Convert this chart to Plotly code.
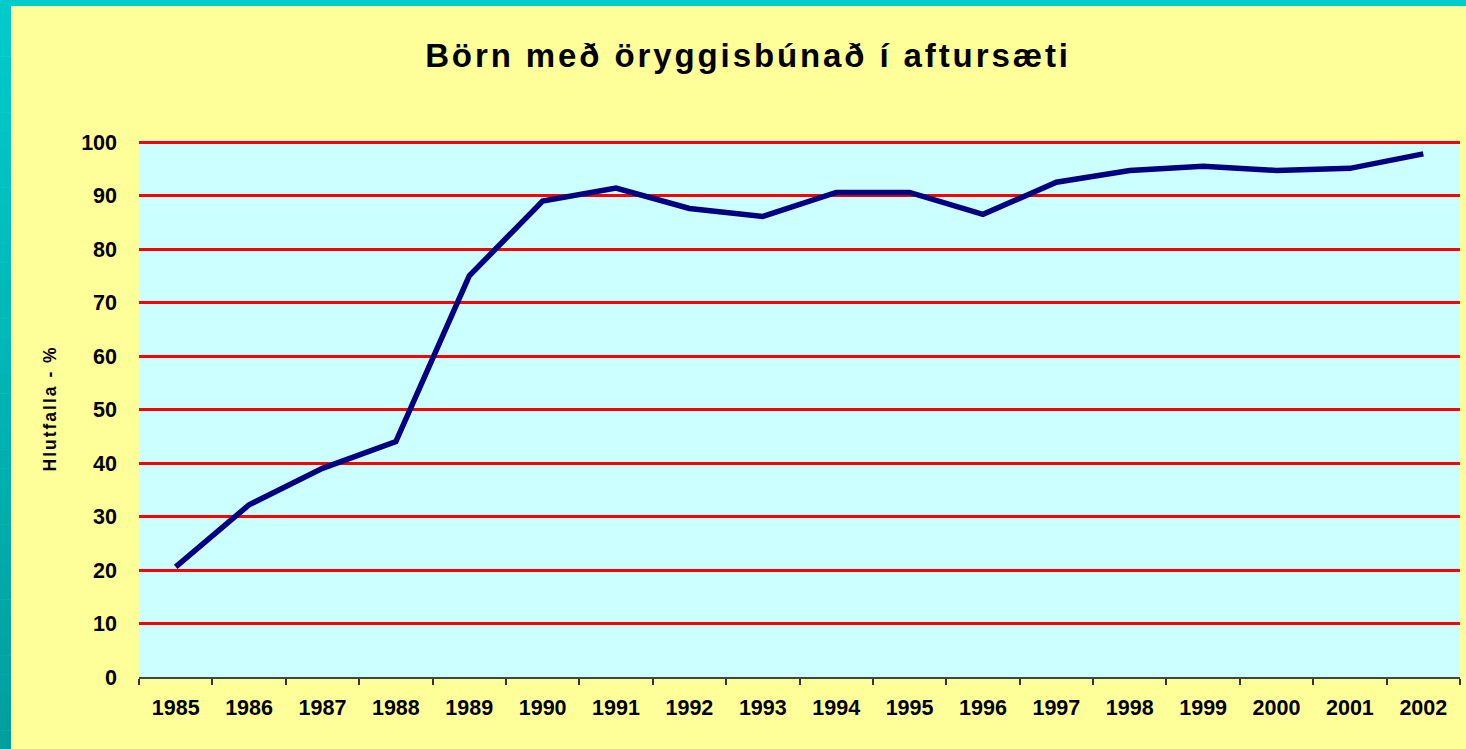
import plotly.graph_objects as go

# ---- data ----
years = ["1985", "1986", "1987", "1988", "1989", "1990", "1991", "1992", "1993",
         "1994", "1995", "1996", "1997", "1998", "1999", "2000", "2001", "2002"]
share = [20.6, 32.2, 39.0, 44.0, 75.0, 89.0, 91.4, 87.6, 86.1,
         90.6, 90.6, 86.5, 92.5, 94.7, 95.5, 94.7, 95.1, 97.8]
y_ticks = [0, 10, 20, 30, 40, 50, 60, 70, 80, 90, 100]

title_text = "Börn með öryggisbúnað í aftursæti"
y_title = "Hlutfalla - %"

W, H = 1466, 749
L, R, T, B = 139, 6, 140, 72
PW, PH = W - L - R, H - T - B

def px_x(p):
    return (p - L) / PW

def px_y(p):
    return (H - B - p) / PH

FONT = "Liberation Sans, Arial, sans-serif"

fig = go.Figure()
fig.add_trace(go.Scatter(
    x=years, y=share, mode="lines",
    line=dict(color="#000080", width=5.5),
    hoverinfo="x+y", showlegend=False,
))

shapes = []
# teal border: top strip
shapes.append(dict(type="rect", xref="paper", yref="paper",
                   x0=px_x(0), x1=px_x(W), y0=px_y(6), y1=px_y(0),
                   fillcolor="#00CCCC", line=dict(width=0), layer="above"))
# teal border: left strip with vertical gradient
n = 40
c_top = (0x00, 0xCC, 0xCC)
c_bot = (0x00, 0x9E, 0x9E)
for i in range(n):
    t = (i + 0.5) / n
    col = tuple(round(c_top[k] + (c_bot[k] - c_top[k]) * t) for k in range(3))
    y0p = H * i / n
    y1p = H * (i + 1) / n + 0.5
    shapes.append(dict(type="rect", xref="paper", yref="paper",
                       x0=px_x(0), x1=px_x(11), y0=px_y(y1p), y1=px_y(y0p),
                       fillcolor="rgb(%d,%d,%d)" % col, line=dict(width=0), layer="above"))

fig.update_layout(
    width=W, height=H,
    margin=dict(l=L, r=R, t=T, b=B),
    paper_bgcolor="#FFFF99",
    plot_bgcolor="#CCFFFF",
    shapes=shapes,
    title=dict(
        text='<span style="letter-spacing:2.9px">' + title_text + '</span>',
        font=dict(family=FONT, size=33, color="#000000", weight="bold"),
        x=748 / W, xanchor="center", xref="container",
        y=1 - 55 / H, yanchor="middle", yref="container",
    ),
    annotations=[dict(
        text='<span style="letter-spacing:2px">' + y_title + '</span>',
        textangle=-90, xref="paper", yref="paper",
        x=px_x(49), y=0.5, xanchor="center", yanchor="middle",
        showarrow=False,
        font=dict(family=FONT, size=17.5, color="#000000", weight="bold"),
    )],
    xaxis=dict(
        type="category",
        range=[-0.5, len(years) - 0.5],
        tickson="boundaries",
        ticks="outside", ticklen=6, tickwidth=1.5, tickcolor="#333333",
        showline=True, linecolor="#444444", linewidth=1.5,
        showgrid=False, zeroline=False,
        tickfont=dict(family=FONT, size=21.5, color="#000000", weight="bold"),
        ticklabelstandoff=10,
    ),
    yaxis=dict(
        range=[0, 100.4],
        tickvals=y_ticks,
        ticks="", showline=False,
        showgrid=True, gridcolor="#FF0000", gridwidth=3,
        zeroline=False,
        tickfont=dict(family=FONT, size=21.5, color="#000000", weight="bold"),
        ticklabelstandoff=21,
    ),
)

fig.write_html("out.html", config={"displayModeBar": False},
               post_script="document.body.style.margin='0';")
